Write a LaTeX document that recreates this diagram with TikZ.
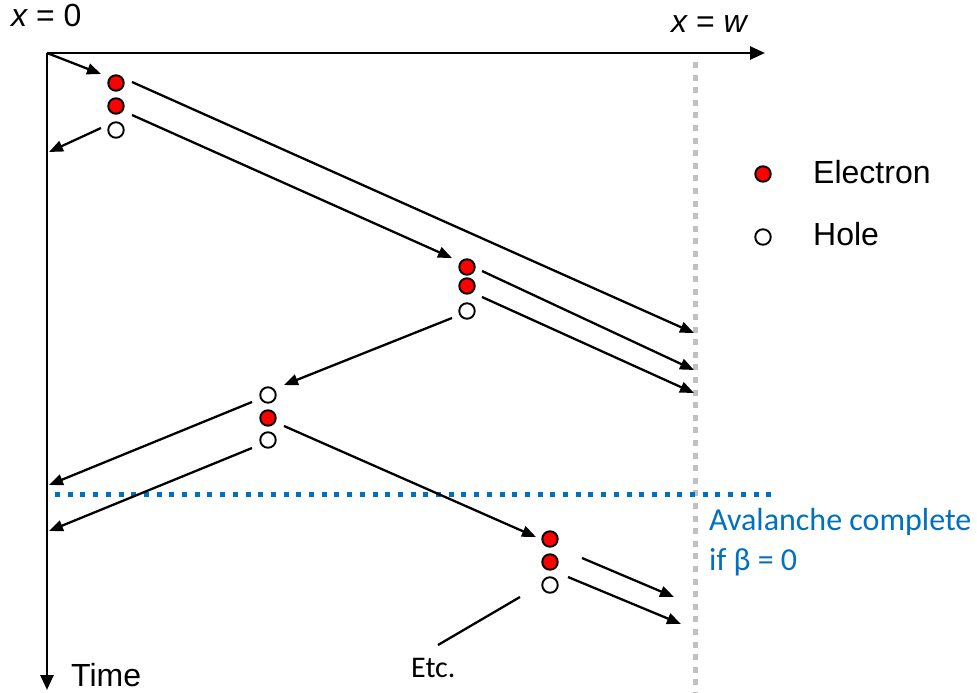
\documentclass[tikz,border=0pt]{standalone}
\usepackage{fontspec}
\setmainfont{Liberation Sans}
\newfontfamily\calibri{Carlito}
\usetikzlibrary{arrows.meta}
\definecolor{eRed}{HTML}{FF0000}
\definecolor{aBlue}{HTML}{0070C0}
\definecolor{wallGray}{HTML}{C0C0C0}
\tikzset{
  electron/.style={circle,draw=black,line width=1.9pt,fill=eRed,minimum size=15.5pt,inner sep=0pt},
  hole/.style={circle,draw=black,line width=1.9pt,fill=white,minimum size=15.5pt,inner sep=0pt},
  carrier/.style={line width=2.3pt,-{Triangle[length=14pt,width=11pt]}},
  axis/.style={line width=2.6pt,-{Triangle[length=15pt,width=13pt]}},
  lbl/.style={font=\fontsize{32}{34}\selectfont,inner sep=0pt,anchor=base west},
  clbl/.style={font=\calibri\fontsize{32}{34}\selectfont,inner sep=0pt,anchor=base west},
}
\begin{document}
\begin{tikzpicture}[x=1pt,y=-1pt]
\useasboundingbox (0,0) rectangle (977,693);

% axes
\coordinate (O) at (47,53);
\coordinate (xend) at (765,53);
\coordinate (tend) at (47,690);
\draw[line width=5pt,wallGray,dash pattern=on 6pt off 6.6pt] (695,62) -- (695,693);
\draw[axis] (O) -- (xend);
\draw[axis] (O) -- (tend);

\node[lbl] (x0) at (11,27) {\itshape x\upshape{} = 0};
\node[lbl] (xw) at (671,33) {\itshape x\upshape{} = \itshape w};
\node[lbl] (time) at (71,686) {Time};

% avalanche limit
\draw[line width=5pt,aBlue,dash pattern=on 5pt off 7.7pt] (55,494) -- (778,494);
\node[clbl,text=aBlue] (av1) at (709,530) {Avalanche complete};
\node[clbl,text=aBlue] (av2) at (709,570) {if β = 0};

% legend
\node[electron] (le) at (763,174) {};
\node[lbl] (lel) at (813,183) {Electron};
\node[hole] (lh) at (763,237) {};
\node[lbl] (lhl) at (813,245) {Hole};

% carriers
\node[electron] (e1a) at (116,83) {};
\node[electron] (e1b) at (116,106) {};
\node[hole] (h1) at (116,130) {};

\node[electron] (e2a) at (467,267) {};
\node[electron] (e2b) at (467,286) {};
\node[hole] (h2) at (467,311) {};

\node[hole] (h3a) at (268,395) {};
\node[electron] (e3) at (268,418) {};
\node[hole] (h3b) at (268,440) {};

\node[electron] (e4a) at (550,539) {};
\node[electron] (e4b) at (550,562) {};
\node[hole] (h4) at (550,585) {};

% path end points
\coordinate (a0) at (101,74);
\coordinate (s1h) at (101,128);  \coordinate (t1h) at (49,152);
\coordinate (s1a) at (132,82);   \coordinate (t1a) at (694,333);
\coordinate (s1b) at (132,115);  \coordinate (t1b) at (452,258);
\coordinate (s2a) at (482,271);  \coordinate (t2a) at (694,370);
\coordinate (s2b) at (482,297);  \coordinate (t2b) at (694,393);
\coordinate (s2h) at (452,318);  \coordinate (t2h) at (284,385);
\coordinate (s3a) at (252,402);  \coordinate (t3a) at (49,485);
\coordinate (s3b) at (252,448);  \coordinate (t3b) at (49,531);
\coordinate (s3e) at (284,426);  \coordinate (t3e) at (536,537);
\coordinate (s4a) at (582,558);  \coordinate (t4a) at (674,597);
\coordinate (s4b) at (568,577);  \coordinate (t4b) at (681,624);
\coordinate (s4h) at (520,597);  \coordinate (t4h) at (438,645);

\draw[carrier] (O) -- (a0);
\draw[carrier] (s1h) -- (t1h);
\draw[carrier] (s1a) -- (t1a);
\draw[carrier] (s1b) -- (t1b);
\draw[carrier] (s2a) -- (t2a);
\draw[carrier] (s2b) -- (t2b);
\draw[carrier] (s2h) -- (t2h);
\draw[carrier] (s3a) -- (t3a);
\draw[carrier] (s3b) -- (t3b);
\draw[carrier] (s3e) -- (t3e);
\draw[carrier] (s4a) -- (t4a);
\draw[carrier] (s4b) -- (t4b);
\draw[line width=2.3pt] (s4h) -- (t4h);

\node[font=\calibri\fontsize{30}{32}\selectfont,inner sep=0pt,anchor=base west] (etc) at (411,677) {Etc.};
\end{tikzpicture}
\end{document}
